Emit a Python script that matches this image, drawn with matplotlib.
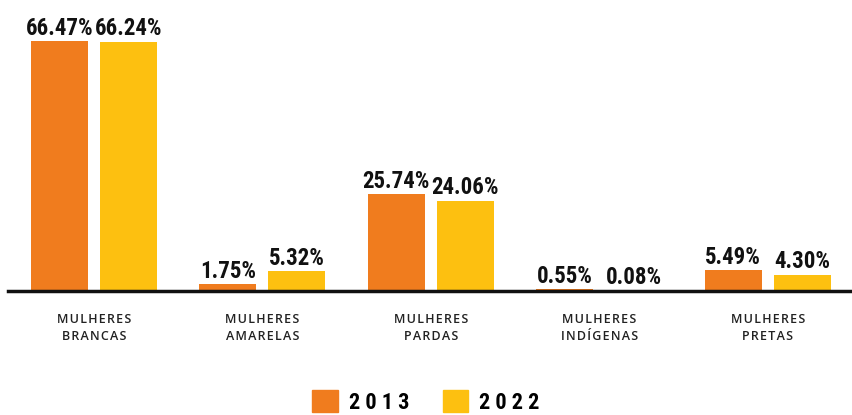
import matplotlib
matplotlib.use("Agg")
import matplotlib.pyplot as plt
from matplotlib.patches import Patch
import numpy as np

categories = ["MULHERES\nBRANCAS", "MULHERES\nAMARELAS", "MULHERES\nPARDAS",
              "MULHERES\nINDÍGENAS", "MULHERES\nPRETAS"]
v2013 = [66.47, 1.75, 25.74, 0.55, 5.49]
v2022 = [66.24, 5.32, 24.06, 0.08, 4.30]
years = ["2013", "2022"]

ORANGE = "#F07C1E"
YELLOW = "#FDC010"
NUM_FONT = ["Roboto Condensed", "DejaVu Sans"]
CAT_FONT = ["Open Sans", "DejaVu Sans"]


def spaced(s, sep="\u200a"):
    return "\n".join(sep.join(line) for line in s.split("\n"))


fig = plt.figure(figsize=(8.52, 4.15), dpi=100)
ax = fig.add_axes([8 / 852, 124 / 415, 844 / 852, 291 / 415])

x = np.arange(len(categories))
w = 0.338
off = 0.205
b1 = ax.bar(x - off, v2013, w, color=ORANGE)
b2 = ax.bar(x + off, v2022, w, color=YELLOW)

# value labels above each bar
for bars, vals in ((b1, v2013), (b2, v2022)):
    for r, v in zip(bars, vals):
        ax.annotate(f"{v:.2f}%", (r.get_x() + r.get_width() / 2, v),
                    xytext=(0, 1), textcoords="offset points",
                    ha="center", va="bottom", fontsize=16.5, fontweight="bold",
                    family=NUM_FONT, color="#111111")

ax.set_xlim(-0.51, 4.5)
ax.set_ylim(0, 77.37)
for s in ["top", "right", "left"]:
    ax.spines[s].set_visible(False)
ax.spines["bottom"].set_linewidth(2.5)
ax.spines["bottom"].set_color("#111111")
ax.set_yticks([])
ax.set_xticks(x)
ax.set_xticklabels([spaced(c) for c in categories], family=CAT_FONT,
                   fontsize=9, fontweight="semibold", color="#222222",
                   linespacing=1.4)
ax.tick_params(axis="x", length=0, pad=16)

handles = [Patch(color=ORANGE), Patch(color=YELLOW)]
fig.legend(handles, [spaced(y, " ") for y in years], loc="lower center",
           bbox_to_anchor=(0.5, -0.045), ncol=2, frameon=False,
           prop={"family": NUM_FONT, "weight": "bold", "size": 16},
           handlelength=1.15, handleheight=1.1, handletextpad=0.5,
           columnspacing=1.5)

fig.savefig("out.png", dpi=100)
